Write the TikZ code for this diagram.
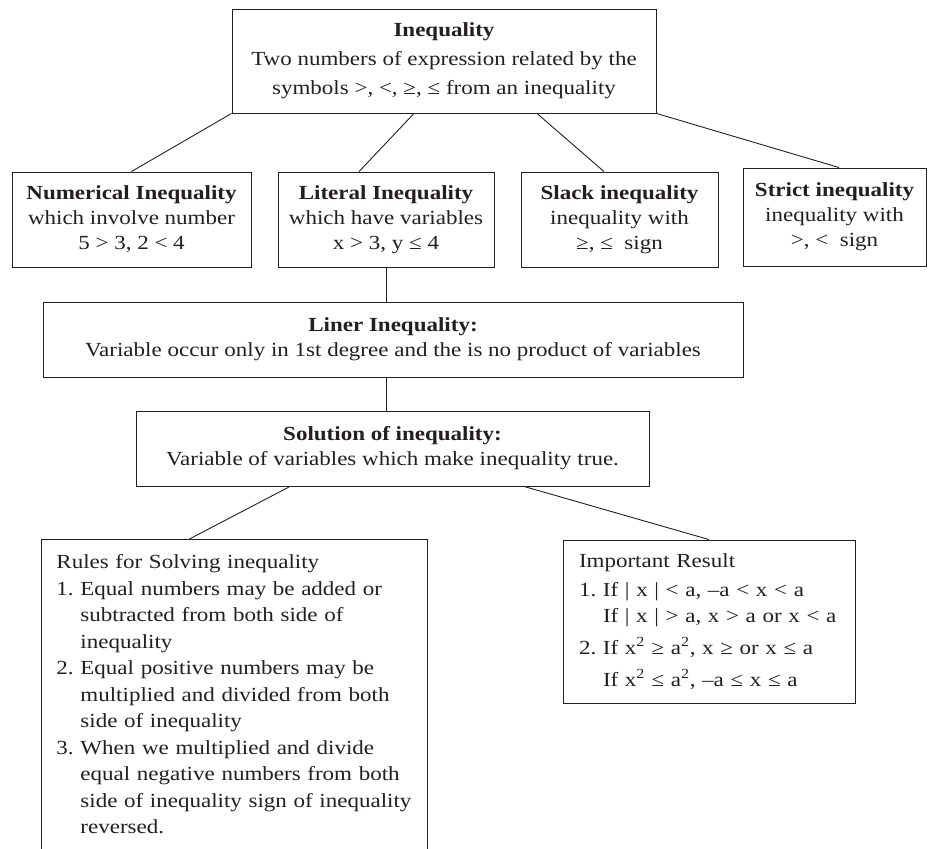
\documentclass[tikz,border=0pt]{standalone}
\usepackage{fontspec}
\setmainfont{Liberation Serif}[FakeStretch=1.15]
\usepackage{xcolor}
\usetikzlibrary{positioning}
\definecolor{ink}{HTML}{231F20}
\newcommand{\itemno}[1]{\makebox[24pt][l]{#1}}

\tikzset{
  box/.style={draw=ink,line width=.9pt,text=ink,align=center,inner sep=0pt},
  listbox/.style={draw=ink,line width=.9pt,text=ink,align=left,anchor=north west,inner xsep=15pt,inner ysep=15pt},
  link/.style={draw=ink,line width=.9pt}
}

\begin{document}
\begin{tikzpicture}[x=1pt,y=-1pt,font=\fontsize{20}{25}\selectfont]
    \useasboundingbox (0,0) rectangle (928,848); \clip (0,0) rectangle (928,848);
    % top of the tree
    \node[box,minimum width=424pt,minimum height=104pt,font=\fontsize{20}{29}\selectfont] (ineq) at (444,61)
      {\textbf{Inequality}\\Two numbers of expression related by the\\symbols >, <, ≥, ≤ from an inequality};
    % four kinds
    \node[box,minimum width=239pt,minimum height=95pt] (num) at (131.5,219.5){\textbf{Numerical Inequality}\\which involve number\\5 > 3, 2 < 4};
    \node[box,minimum width=216pt,minimum height=95pt] (lit) at (386,219.5){\textbf{Literal Inequality}\\which have variables\\x > 3, y ≤ 4};
    \node[box,minimum width=197pt,minimum height=95pt] (slack) at (619.5,219.5){\textbf{Slack inequality}\\inequality with\\≥, ≤~ sign};
    \node[box,minimum width=183pt,minimum height=98pt] (strict) at (834.5,217){\textbf{Strict inequality}\\inequality with\\>, <~ sign};
    \draw[link] (ineq.south west) -- (num.north); \draw[link] ([xshift=-30pt]ineq.south) -- ([xshift=-27pt]lit.north);
    \draw[link] ([xshift=93pt]ineq.south) -- ([xshift=-15.5pt]slack.north); \draw[link] (ineq.south east) -- ([xshift=4.5pt]strict.north);
    % linear and solution
    \node[box,minimum width=700pt,minimum height=75pt] (liner) at (393,339.5){\textbf{Liner Inequality:}\\Variable occur only in 1st degree and the is no product of variables};
    \node[box,minimum width=513pt,minimum height=75pt] (sol) at (392.5,448.5){\textbf{Solution of inequality:}\\Variable of variables which make inequality true.};
    \draw[link] (lit.south) -- (lit.south |- liner.north); \draw[link] (lit.south |- liner.south) -- (lit.south |- sol.north);
    % rules and results
    \node[listbox,text width=356pt,font=\fontsize{20}{26.5}\selectfont] (rules) at (41,539){Rules for Solving inequality\\
      \itemno{1.}Equal numbers may be added or\\\itemno{}subtracted from both side of\\\itemno{}inequality\\
      \itemno{2.}Equal positive numbers may be\\\itemno{}multiplied and divided from both\\\itemno{}side of inequality\\
      \itemno{3.}When we multiplied and divide\\\itemno{}equal negative numbers from both\\\itemno{}side of inequality sign of inequality\\\itemno{}reversed.\\\strut};
    \node[box,align=left,text width=260pt,minimum width=292pt,minimum height=163pt,font=\fontsize{20}{26}\selectfont] (result) at (709,621.5){Important Result\\[3pt]
      \itemno{1.}If | x | < a, –a < x < a\\\itemno{}If | x | > a, x > a or x < a\\[6pt]
      \itemno{2.}If x\textsuperscript{2} ≥ a\textsuperscript{2}, x ≥ or x ≤ a\\[6pt]\itemno{}If x\textsuperscript{2} ≤ a\textsuperscript{2}, –a ≤ x ≤ a};
    \draw[link] ([xshift=-102.5pt]sol.south) -- ([xshift=-45pt]rules.north); \draw[link] ([xshift=131.5pt]sol.south) -- (result.north);
\end{tikzpicture}
\end{document}
